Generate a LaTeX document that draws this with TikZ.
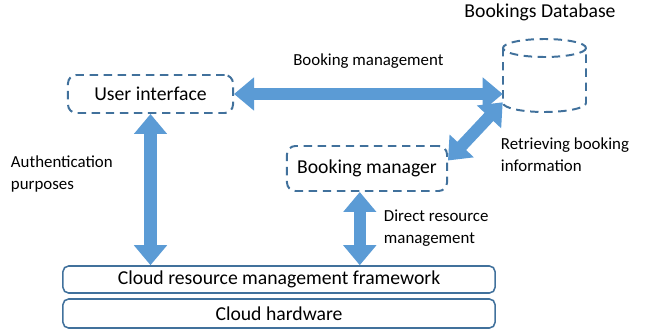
\documentclass[tikz,border=0pt]{standalone}
\usepackage{fontspec}
\setmainfont{Carlito}
\usepackage{xcolor}
\usetikzlibrary{arrows.meta, positioning, calc}
\definecolor{edgeblue}{RGB}{65, 113, 156}
\definecolor{arrowblue}{RGB}{91, 155, 213}
\tikzstyle{dashbox} = [
    rectangle,
    rounded corners=6pt,
    draw=edgeblue,
    line width=1.4pt,
    dash pattern=on 6pt off 4pt,
    text centered,
    font=\fontsize{14}{16}\selectfont
]
\tikzstyle{layer} = [
    rectangle,
    rounded corners=4pt,
    draw=edgeblue,
    line width=1.1pt,
    minimum width=10.8cm,
    text centered,
    font=\fontsize{14}{16}\selectfont
]
\tikzstyle{bigarrow} = [
    line width=0.3cm,
    draw=arrowblue,
    {Triangle[length=0.5cm, width=0.8cm]}-{Triangle[length=0.5cm, width=0.8cm]}
]
\tikzstyle{note} = [
    anchor=west,
    align=left,
    font=\fontsize{12}{15.6}\selectfont
]

\begin{document}
\begin{tikzpicture}[x=0.025cm, y=-0.025cm]
        \useasboundingbox (0, 0) rectangle (646, 329);

        % Components
        \node[dashbox, minimum width=4.125cm, minimum height=0.95cm] (ui) at (150.5, 94) {User interface};
        \node[dashbox, minimum width=4cm, minimum height=1.125cm] (manager) at (367, 168.5) {Booking manager};
        \node[layer, minimum height=0.675cm] (framework) at (279, 279.5) {Cloud resource management framework};
        \node[layer, minimum height=0.725cm] (hardware) at (279, 313.5) {Cloud hardware};

        % Database
        \node[minimum width=2.075cm, minimum height=1.6cm, inner sep=0pt] (db) at (544.5, 80) {};
        \node[font=\fontsize{14}{16}\selectfont] (dbname) at (540, 12) {Bookings Database};
        \draw[edgeblue, line width=1.4pt, dash pattern=on 6pt off 4pt]
            (544.5, 48) ellipse [x radius=41.5, y radius=9];
        \draw[edgeblue, line width=1.4pt, dash pattern=on 6pt off 4pt]
            (503, 48) -- (503, 103) arc [start angle=180, end angle=0, x radius=41.5, y radius=9] -- (586, 48);

        % Arrows
        \draw[bigarrow] (ui.east) -- node[above=0.38cm, note, anchor=south, text=black]{Booking management} (ui.east -| db.west);
        \draw[bigarrow] (ui.south) -- (ui.south |- framework.north);
        \draw[bigarrow] ([xshift=-0.18cm]manager.south) -- ([xshift=-0.18cm]manager.south |- framework.north);
        \draw[bigarrow] ([yshift=0.2cm]manager.east) -- ([yshift=0.25cm]db.south west);

        % Labels
        \node[note] (auth) at (6, 174) {Authentication\\purposes};
        \node[note] (retrieve) at (496, 155) {Retrieving booking\\information};
        \node[note] (direct) at (379, 228) {Direct resource\\management};
    \end{tikzpicture}
\end{document}
